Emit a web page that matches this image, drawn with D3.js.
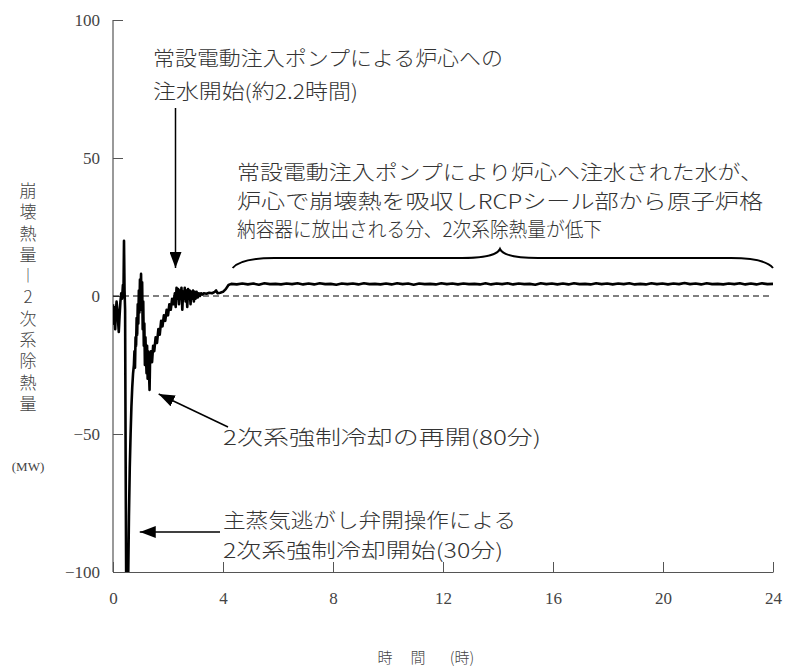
<!DOCTYPE html>
<html><head><meta charset="utf-8">
<script src="https://cdn.jsdelivr.net/npm/d3@7"></script>
<style>
html,body{margin:0;padding:0;background:#fff;}
svg{display:block;}
</style></head>
<body>
<script>
// ---- data ----
const xTicks = [0, 4, 8, 12, 16, 20, 24];
const yTicks = [100, 50, 0, -50, -100];
// early transient (hours, MW)
const earlyT = [0.00,0.02,0.04,0.06,0.08,0.10,0.13,0.16,0.19,0.21,0.24,0.27,0.30,0.33,0.36,0.38,0.40,0.42,0.44,0.46,0.48,0.52,0.55,0.58,0.61,0.64,0.67,0.70,0.73,0.76,0.78,0.80,0.82,0.84,0.86,0.88,0.90,0.92,0.94,0.96,0.98,1.00,1.02,1.04,1.06,1.08,1.10,1.12,1.14,1.16,1.18,1.20,1.22,1.24,1.26,1.28,1.30,1.33,1.35,1.38,1.42,1.46,1.50,1.55,1.60,1.65,1.70,1.75,1.80,1.85,1.90,1.95,2.00,2.05,2.10,2.15,2.20,2.25,2.28,2.31,2.34,2.37,2.40,2.43,2.46,2.49,2.52,2.55,2.58,2.61,2.64,2.67,2.70,2.73,2.76,2.79,2.82,2.85,2.88,2.91,2.94,2.97,3.00,3.04,3.08,3.12,3.16,3.20,3.25,3.30,3.40,3.50,3.60,3.70,3.75,3.80,3.90,4.00,4.10,4.20,4.30];
const earlyV = [-3,-10,-4,-8,-12,-6,-2,-5,-10,-13,-7,-2,1,-1,4,0,20,2,-5,-60,-105,-108,-104,-80,-62,-50,-40,-33,-28,-25,-20,-26,-15,-18,-8,-14,-3,-10,2,-6,6,-2,8,-5,5,-12,-2,-18,-10,-25,-15,-22,-28,-18,-30,-20,-25,-34,-22,-20,-24,-18,-20,-15,-17,-12,-14,-9,-11,-7,-9,-5,-7,-3,-5,-1,-3,1,-4,3,-1,2.5,-3,2,-1,3,-5,1.5,-1,3,-2,2,-4,2.5,-1,2,-3,1.5,-1,2,-2,1.5,-1,1.5,-0.5,1,0,1,0.5,1,0.8,1.2,1,1.5,2,1,1.2,1.5,2.5,4,4.4];
// steady period 4.3 h - 24 h (MW), sampled evenly
const steadyStart = 4.3, steadyEnd = 24;
const steadyV = [4.4,4.2,4.5,4.2,4.5,4.1,4.6,4.3,4.4,4.2,4.5,4.3,4.6,4.2,4.5,4.2,4.6,4.3,4.4,4.1,4.5,4.3,4.5,4.2,4.6,4.3,4.4,4.2,4.5,4.2,4.6,4.3,4.5,4.1,4.5,4.3,4.4,4.2,4.6,4.3,4.5,4.2,4.5,4.3,4.4,4.2,4.6,4.2,4.5,4.3,4.6,4.2,4.5,4.3,4.4,4.1,4.6,4.3,4.5,4.2,4.5,4.2,4.6,4.3,4.4,4.2,4.6,4.3,4.5,4.2,4.5,4.3,4.6,4.2,4.4,4.2,4.6,4.3,4.5,4.2,4.5,4.3,4.7,4.3,4.5,4.2,4.6,4.3,4.4,4.2,4.5,4.3,4.6,4.2,4.5,4.2,4.6,4.3,4.4];
const injectionTime = 2.2;   // h
const restartTime = 80/60;   // h
const coolStartTime = 30/60; // h

// ---- layout ----
const W = 787, H = 669;
const svg = d3.select("body").append("svg").attr("width", W).attr("height", H);
const x = d3.scaleLinear().domain([0, 24]).range([113, 773]);
const y = d3.scaleLinear().domain([-100, 100]).range([572, 20]);

const numFont = "'Liberation Serif', 'Times New Roman', serif";
const jpFont = "'Noto Sans CJK JP', sans-serif";
const txtCol = "#333";

// clip
svg.append("clipPath").attr("id","clip").append("rect")
  .attr("x", x(0)).attr("y", y(100)).attr("width", x(24)-x(0)).attr("height", y(-100)-y(100));

// axes
const axL = svg.append("g").attr("transform", `translate(${x(0)},0)`)
  .call(d3.axisLeft(y).tickValues(yTicks).tickSizeInner(-10).tickSizeOuter(0).tickPadding(13).tickFormat(d=>d<0? "\u2212"+(-d): d));
const axB = svg.append("g").attr("transform", `translate(0,${y(-100)})`)
  .call(d3.axisBottom(x).tickValues(xTicks).tickSizeInner(-10).tickSizeOuter(0).tickPadding(20));
[axL, axB].forEach(a => {
  a.attr("font-family", null);
  a.select(".domain").attr("stroke", "#555").attr("stroke-width", 1.2);
  a.selectAll(".tick line").attr("stroke", "#555").attr("stroke-width", 1);
  a.selectAll(".tick text").style("font-family", numFont).style("font-size", "17px").attr("fill", "#444");
});
axL.select(".domain").attr("d", `M0,${y(100)}V${y(-100)}`);

// zero dashed line
svg.append("line").attr("x1", x(0)).attr("x2", x(24)).attr("y1", y(0)).attr("y2", y(0))
  .attr("stroke", "#000").attr("stroke-width", 1.2).attr("stroke-dasharray", "6,4");

// data line
const pts = earlyT.map((t,i)=>[t, earlyV[i]]);
const step = (steadyEnd - steadyStart) / (steadyV.length - 1);
steadyV.forEach((v,i)=> { if (i>0) pts.push([steadyStart + i*step, v]); });
const line = d3.line().x(d=>x(d[0])).y(d=>y(d[1]));
svg.append("path").datum(pts).attr("clip-path","url(#clip)")
  .attr("d", line).attr("fill","none").attr("stroke","#000").attr("stroke-width",2.6).attr("stroke-linejoin","round");

// arrowhead marker
const defs = svg.append("defs");
defs.append("marker").attr("id","ah").attr("viewBox","0 0 16 12").attr("refX",16).attr("refY",6)
  .attr("markerWidth",16).attr("markerHeight",12).attr("markerUnits","userSpaceOnUse").attr("orient","auto")
  .append("path").attr("d","M0,0L16,6L0,12Z").attr("fill","#000");

function arrow(x1,y1,x2,y2){
  svg.append("line").attr("x1",x1).attr("y1",y1).attr("x2",x2).attr("y2",y2)
    .attr("stroke","#000").attr("stroke-width",1.5).attr("marker-end","url(#ah)");
}
arrow(x(injectionTime)+2, 108, x(injectionTime)+2, 268);
arrow(228, 427, x(restartTime)+9, 394);
arrow(220, 532, x(coolStartTime)+13, 532);

// texts
function jtext(str, tx, ty, fs, len){
  const t = svg.append("text").attr("x",tx).attr("y",ty).attr("font-family",jpFont)
    .attr("font-size",fs).attr("font-weight",300).attr("fill",txtCol).attr("dominant-baseline","central").text(str);
  if (len) t.attr("textLength",len).attr("lengthAdjust","spacingAndGlyphs");
  return t;
}
jtext("常設電動注入ポンプによる炉心への", 153, 57, 20, 350);
jtext("注水開始(約2.2時間)", 153, 90, 20, 205);
jtext("常設電動注入ポンプにより炉心へ注水された水が、", 237, 171, 20, 526);
jtext("炉心で崩壊熱を吸収しRCPシール部から原子炉格", 237, 200, 20, 526);
jtext("納容器に放出される分、2次系除熱量が低下", 237, 228, 20, 365);
jtext("2次系強制冷却の再開(80分)", 223, 436, 20, 318);
jtext("主蒸気逃がし弁開操作による", 223, 519, 20, 293);
jtext("2次系強制冷却開始(30分)", 223, 549, 20, 280);

// brace
const bx1 = x(4.35), bx2 = x(24), bmid = 500, by = 258;
svg.append("path")
  .attr("d", `M${bx1},${by+10} Q${bx1+8},${by} ${bx1+42},${by} L${bmid-38},${by} Q${bmid-4},${by} ${bmid},${by-9} Q${bmid+4},${by} ${bmid+38},${by} L${bx2-42},${by} Q${bx2-8},${by} ${bx2},${by+10}`)
  .attr("fill","none").attr("stroke","#000").attr("stroke-width",2);

// y-axis title (vertical writing)
svg.append("text").attr("x",28).attr("y",182)
  .style("writing-mode","vertical-rl").style("text-orientation","upright")
  .style("letter-spacing","4.3px")
  .attr("font-family",jpFont).attr("font-size",17).attr("font-weight",300).attr("fill","#444")
  .text("崩壊熱量―2次系除熱量");
svg.append("text").attr("x",28).attr("y",466).attr("text-anchor","middle").attr("dominant-baseline","central")
  .style("font-family",numFont).attr("font-size",13).attr("fill","#444").text("(MW)");

// x-axis title
const xTitle = [["時",385],["間",418],["(時)",462]];
xTitle.forEach(([s,px])=>{
  svg.append("text").attr("x",px).attr("y",656).attr("text-anchor","middle").attr("dominant-baseline","central")
    .attr("font-family",jpFont).attr("font-size",15).attr("font-weight",300).attr("fill","#444").text(s);
});
</script>
</body></html>
